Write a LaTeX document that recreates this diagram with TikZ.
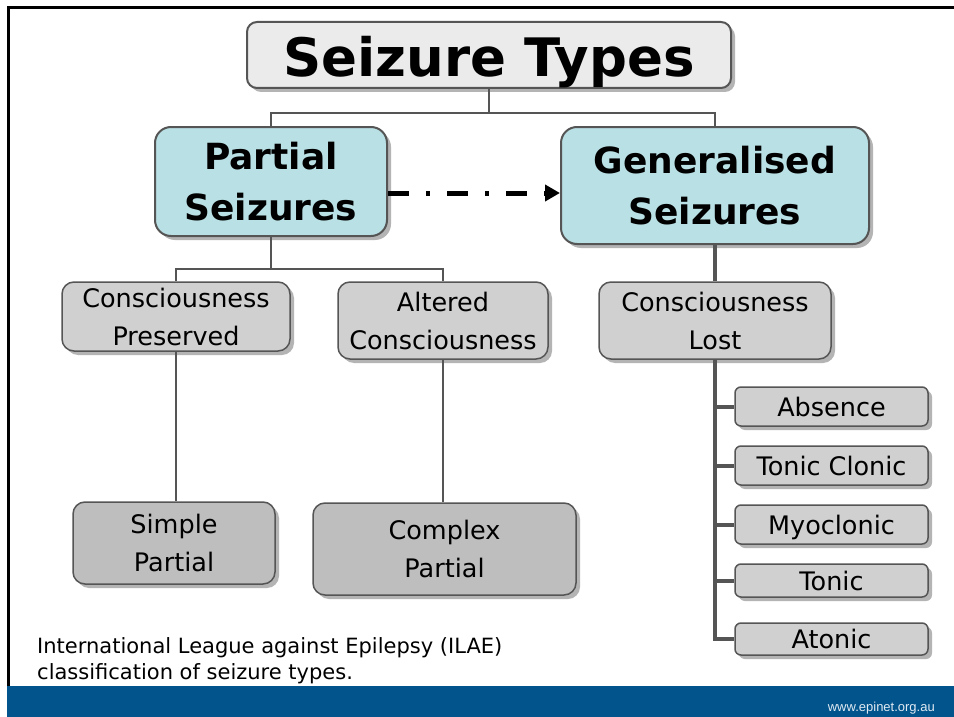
\documentclass[tikz,border=0pt]{standalone}
\usepackage{fontspec}
\setmainfont{DejaVu Sans}
\newfontfamily\webfont{Liberation Sans}
\usetikzlibrary{shadows,arrows.meta,calc}
\definecolor{boxteal}{RGB}{185,224,228}
\definecolor{boxlight}{RGB}{235,235,235}
\definecolor{boxgray}{RGB}{208,208,208}
\definecolor{boxdark}{RGB}{190,190,190}
\definecolor{linegray}{RGB}{85,85,85}
\definecolor{shadowgray}{RGB}{180,180,180}
\definecolor{bandblue}{RGB}{1,84,140}
\definecolor{webtext}{RGB}{225,234,242}
\tikzset{
  box/.style={draw=linegray, line width=2pt, rounded corners=#1, inner sep=0pt, align=center,
    drop shadow={shadow xshift=4pt, shadow yshift=-4pt, fill=shadowgray, opacity=1}},
  titlebox/.style={box=10pt, fill=boxlight, font=\fontsize{53}{60}\selectfont\bfseries},
  mainbox/.style={box=16pt, fill=boxteal, font=\fontsize{36}{51}\selectfont\bfseries},
  midbox/.style={box=12pt, fill=boxgray, line width=1.5pt, font=\fontsize{25.5}{38}\selectfont},
  leafbox/.style={box=12pt, fill=boxdark, line width=1.5pt, font=\fontsize{25.5}{38}\selectfont},
  kidbox/.style={box=6pt, fill=boxgray, line width=1.5pt, minimum width=193pt,
    text height=21pt, text depth=2pt, font=\fontsize{25.5}{30}\selectfont,
    drop shadow={shadow xshift=3pt, shadow yshift=-3pt, fill=shadowgray, opacity=1}},
  conn/.style={draw=linegray, line width=2pt},
  thickconn/.style={draw=linegray, line width=4pt},
  dasharrow/.style={draw=black, line width=5pt, dash pattern=on 21pt off 17pt on 4pt off 17pt,
    -{Triangle[length=15pt,width=16pt]}},
  captext/.style={anchor=base west, inner sep=0pt, font=\fontsize{21}{27}\selectfont},
}
\begin{document}
\begin{tikzpicture}[x=1pt,y=-1pt]
\useasboundingbox (0,0) rectangle (954,717);
\fill[white] (0,0) rectangle (954,717);
% frame and footer band
\fill[bandblue] (7,686) rectangle (954,717);
\draw[line width=3pt] (8,686) -- (8,8) -- (954,8);

% nodes
\node[titlebox, minimum width=484pt, text height=55pt, text depth=11pt] (title) at (489,55) {Seizure Types};
\node[mainbox, minimum width=232pt, minimum height=109pt] (partial) at (271,181.5) {Partial\\Seizures};
\node[mainbox, minimum width=308pt, minimum height=117pt] (gen) at (715,185.5) {Generalised\\Seizures};

\node[midbox, minimum width=228pt, minimum height=69pt] (cp) at (176,316.5) {Consciousness\\Preserved};
\node[midbox, minimum width=210pt, minimum height=77pt] (ac) at (443,320.5) {Altered\\Consciousness};
\node[midbox, minimum width=232pt, minimum height=77pt] (cl) at (715,320.5) {Consciousness\\Lost};

\node[leafbox, minimum width=202pt, minimum height=82pt] (sp) at (174,543) {Simple\\Partial};
\node[leafbox, minimum width=263pt, minimum height=92pt] (cx) at (444.5,549) {Complex\\Partial};

\node[kidbox, minimum height=39pt] (absence) at (831.5,406.5) {Absence};
\node[kidbox, minimum height=39pt] (tc) at (831.5,465.5) {Tonic Clonic};
\node[kidbox, minimum height=39pt] (myo) at (831.5,524.5) {Myoclonic};
\node[kidbox, minimum height=33pt] (tonic) at (831.5,580.5) {Tonic};
\node[kidbox, minimum height=32pt] (atonic) at (831.5,639) {Atonic};

% connectors
\draw[conn] (title.south) -- ++(0,24) coordinate (tj) -| (partial.north);
\draw[conn] (tj) -| (gen.north);
\draw[conn] (partial.south) -- ++(0,32) coordinate (pj) -| (cp.north);
\draw[conn] (pj) -| (ac.north);
\draw[conn] (cp.south) -- (cp.south |- sp.north);
\draw[conn] (ac.south) -- (ac.south |- cx.north);
\draw[thickconn] (gen.south) -- (gen.south |- cl.north);
\draw[thickconn] (cl.south) |- (atonic.west);
\draw[thickconn] (cl.south |- absence.west) -- (absence.west);
\draw[thickconn] (cl.south |- tc.west) -- (tc.west);
\draw[thickconn] (cl.south |- myo.west) -- (myo.west);
\draw[thickconn] (cl.south |- tonic.west) -- (tonic.west);
\draw[dasharrow] ($(partial.east)+(0,11.5)$) -- ($(gen.west)+(0,7.5)$);

% caption and footer
\node[captext] (cap1) at (37,653) {International League against Epilepsy (ILAE)};
\node[captext] (cap2) at (37,679) {classification of seizure types.};
\node[anchor=base east, inner sep=0pt, text=webtext, font=\webfont\fontsize{13}{15}\selectfont] (web) at (935,711) {www.epinet.org.au};
\end{tikzpicture}
\end{document}
